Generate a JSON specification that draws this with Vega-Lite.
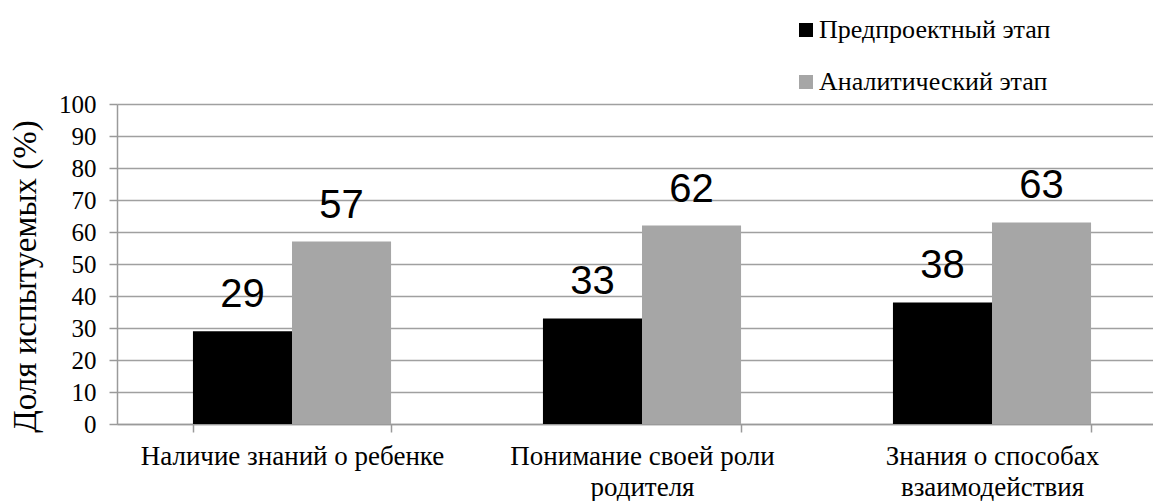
{
  "$schema": "https://vega.github.io/schema/vega-lite/v6.json",
  "autosize": "none",
  "padding": {"left": 117, "top": 104, "right": 0, "bottom": 77},
  "width": 1036,
  "height": 320,
  "background": "white",
  "config": {"view": {"stroke": null}},
  "data": {
    "values": [
      {"category": "Наличие знаний о ребенке", "series": "Предпроектный этап", "value": 29},
      {"category": "Наличие знаний о ребенке", "series": "Аналитический этап", "value": 57},
      {"category": "Понимание своей роли родителя", "series": "Предпроектный этап", "value": 33},
      {"category": "Понимание своей роли родителя", "series": "Аналитический этап", "value": 62},
      {"category": "Знания о способах взаимодействия", "series": "Предпроектный этап", "value": 38},
      {"category": "Знания о способах взаимодействия", "series": "Аналитический этап", "value": 63}
    ]
  },
  "encoding": {
    "x": {
      "field": "category",
      "type": "nominal",
      "sort": null,
      "scale": {"range": [0, 1050], "paddingInner": 0.434, "paddingOuter": 0.217},
      "axis": {
        "title": null,
        "labelAngle": 0,
        "grid": false,
        "tickBand": "extent",
        "domainColor": "#9a9a9a",
        "domainWidth": 1.5,
        "tickColor": "#9a9a9a",
        "tickWidth": 1.5,
        "tickSize": 8,
        "labelFont": "Liberation Serif, Times New Roman, serif",
        "labelFontSize": 27,
        "labelColor": "#000000",
        "labelPadding": 11,
        "labelLimit": 500,
        "labelLineHeight": 31,
        "labelExpr": "datum.label == 'Понимание своей роли родителя' ? ['Понимание своей роли', 'родителя'] : datum.label == 'Знания о способах взаимодействия' ? ['Знания о способах', 'взаимодействия'] : datum.label"
      }
    },
    "xOffset": {"field": "series", "type": "nominal", "sort": ["Предпроектный этап", "Аналитический этап"], "scale": {"paddingInner": 0, "paddingOuter": 0}},
    "y": {
      "field": "value",
      "type": "quantitative",
      "scale": {"domain": [0, 100], "nice": false},
      "axis": {
        "title": "Доля  испытуемых (%)",
        "values": [0, 10, 20, 30, 40, 50, 60, 70, 80, 90, 100],
        "grid": true,
        "gridColor": "#a0a0a0",
        "gridWidth": 1.5,
        "domainColor": "#9a9a9a",
        "domainWidth": 1.5,
        "tickColor": "#9a9a9a",
        "tickWidth": 1.5,
        "tickSize": 8,
        "labelFont": "Liberation Serif, Times New Roman, serif",
        "labelFontSize": 25,
        "labelColor": "#000000",
        "labelPadding": 13,
        "titleFont": "Liberation Serif, Times New Roman, serif",
        "titleFontSize": 33,
        "titleFontWeight": "normal",
        "titleColor": "#000000",
        "titleX": -92,
        "titleY": 172,
        "titleAlign": "center",
        "titleBaseline": "middle",
        "titleAngle": -90,
        "titleLimit": 500
      }
    }
  },
  "layer": [
    {
      "mark": {"type": "bar", "clip": true},
      "encoding": {
        "color": {
          "field": "series",
          "type": "nominal",
          "sort": ["Предпроектный этап", "Аналитический этап"],
          "scale": {"domain": ["Предпроектный этап", "Аналитический этап"], "range": ["#000000", "#a6a6a6"]},
          "legend": {
            "title": null,
            "orient": "none",
            "legendX": 676,
            "legendY": -87,
            "symbolType": "square",
            "symbolSize": 196,
            "symbolStrokeWidth": 0,
            "symbolOffset": 0,
            "labelFont": "Liberation Serif, Times New Roman, serif",
            "labelFontSize": 26,
            "labelColor": "#000000",
            "labelOffset": 0,
            "labelLimit": 400,
            "rowPadding": 26,
            "padding": 0
          }
        }
      }
    },
    {
      "mark": {"type": "text", "baseline": "alphabetic", "dy": -24, "font": "Liberation Sans", "fontSize": 40, "color": "#000000"},
      "encoding": {"text": {"field": "value", "type": "quantitative"}}
    }
  ]
}
